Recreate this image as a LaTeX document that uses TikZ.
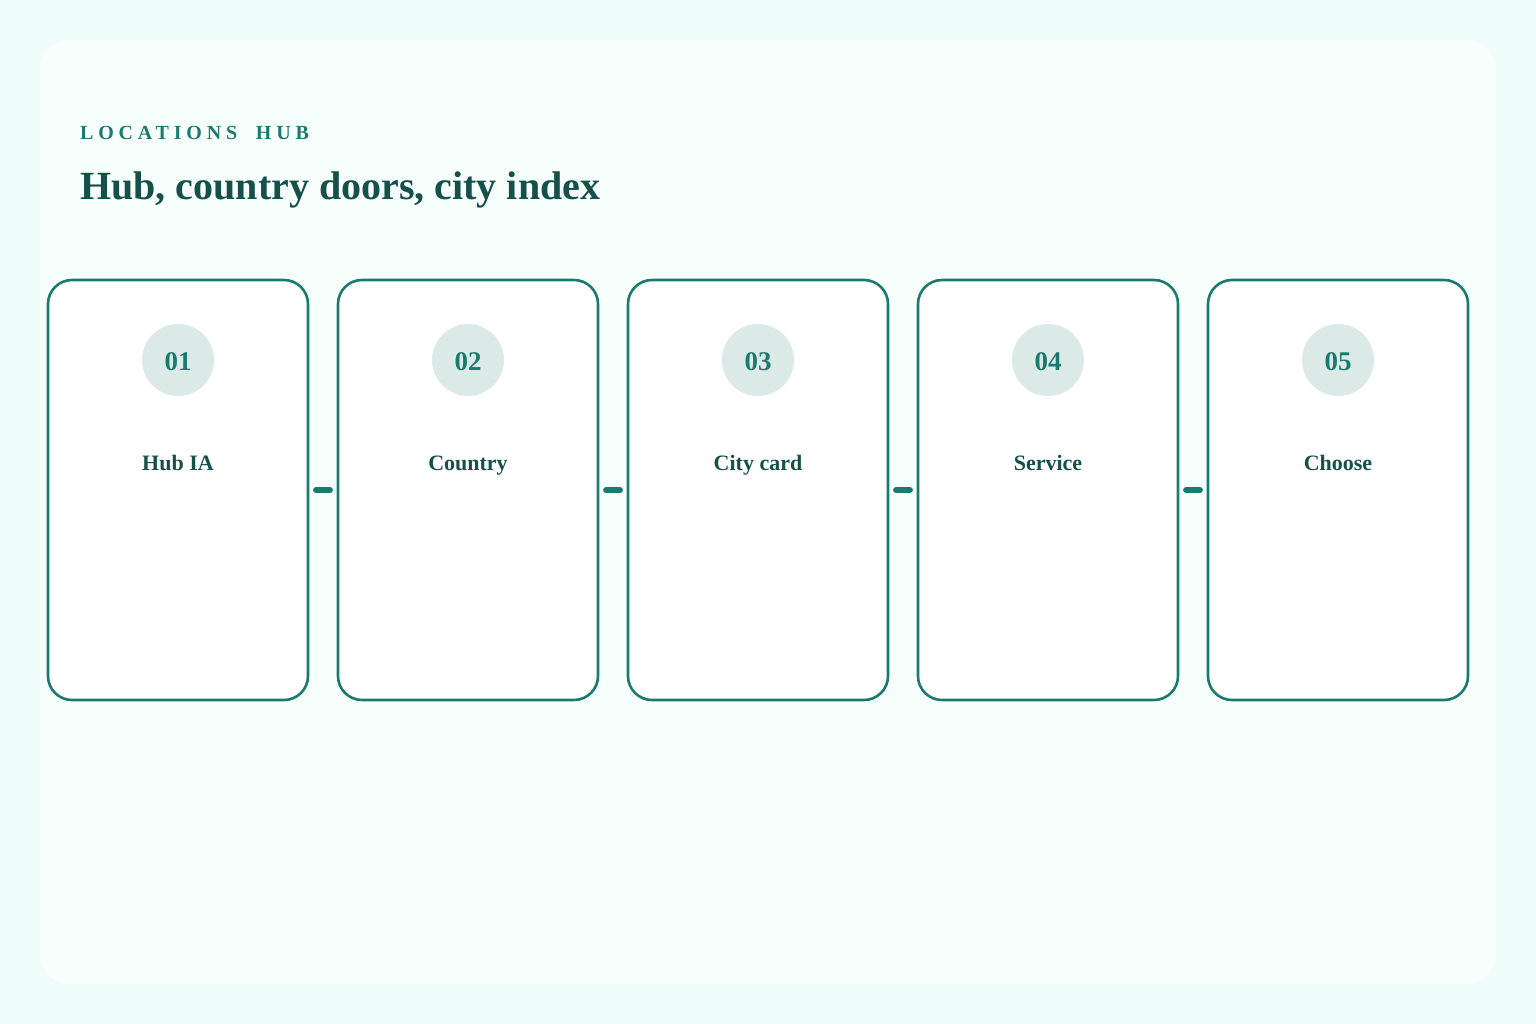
\documentclass[tikz,border=0pt]{standalone}
\usepackage{fontspec}
\setmainfont{Liberation Serif}
\newfontfamily\kickerfont[LetterSpace=24]{Liberation Serif}
\definecolor{bgout}{HTML}{EEFDF9}
\definecolor{bgpanel}{HTML}{F6FFFC}
\definecolor{teal}{HTML}{1B7A70}
\definecolor{deep}{HTML}{17504B}
\definecolor{disc}{HTML}{DCEAE7}
\tikzset{
  card/.style={draw=teal, line width=2.6pt, fill=white, rounded corners=24pt,
    minimum width=260pt, minimum height=420pt, inner sep=0pt},
  badge/.style={circle, fill=disc, minimum size=72pt, inner sep=0pt},
  badgetext/.style={anchor=base, inner sep=0pt, text=teal,
    font=\bfseries\fontsize{27}{27}\selectfont},
  cardlabel/.style={anchor=base, inner sep=0pt, text=deep,
    font=\bfseries\fontsize{22}{22}\selectfont},
  link/.style={draw=teal, line width=6.5pt, line cap=round, shorten <=7pt, shorten >=7pt},
}
\begin{document}
\begin{tikzpicture}[x=1pt,y=-1pt]
  \begin{scope}

    \def\W{1536};   % picture width
    \def\H{1024};   % picture height
    \def\cy{490};   % card centre row
    \def\ny{360};   % badge row
    \def\by{370};   % badge text baseline
    \def\ly{470};   % label baseline

    \useasboundingbox[fill=bgout] (0,0) rectangle (\W,\H);
    \fill[bgpanel, rounded corners=30pt] (40,40) rectangle (1496,984);

    \node[anchor=base west, inner sep=0pt, text=teal,
      font=\bfseries\fontsize{20}{20}\selectfont\kickerfont]
      (kicker) at (80,140) {LOCATIONS\hspace{0.45em} HUB};
    \node[anchor=base west, inner sep=0pt, text=deep,
      font=\bfseries\fontsize{40}{40}\selectfont]
      (title) at (80,200) {Hub, country doors, city index};

    \node[card] (c1) at (178,\cy)  {};
    \node[card] (c2) at (468,\cy)  {};
    \node[card] (c3) at (758,\cy)  {};
    \node[card] (c4) at (1048,\cy) {};
    \node[card] (c5) at (1338,\cy) {};

    \node[badge] (n1) at (178,\ny)  {};
    \node[badge] (n2) at (468,\ny)  {};
    \node[badge] (n3) at (758,\ny)  {};
    \node[badge] (n4) at (1048,\ny) {};
    \node[badge] (n5) at (1338,\ny) {};

    \node[badgetext] (t1) at (178,\by)  {01};
    \node[badgetext] (t2) at (468,\by)  {02};
    \node[badgetext] (t3) at (758,\by)  {03};
    \node[badgetext] (t4) at (1048,\by) {04};
    \node[badgetext] (t5) at (1338,\by) {05};

    \node[cardlabel] (l1) at (178,\ly)  {Hub IA};
    \node[cardlabel] (l2) at (468,\ly)  {Country};
    \node[cardlabel] (l3) at (758,\ly)  {City card};
    \node[cardlabel] (l4) at (1048,\ly) {Service};
    \node[cardlabel] (l5) at (1338,\ly) {Choose};

    \draw[link] (c1.east) -- (c2.west);
    \draw[link] (c2.east) -- (c3.west);
    \draw[link] (c3.east) -- (c4.west);
    \draw[link] (c4.east) -- (c5.west);

  \end{scope}
\end{tikzpicture}
\end{document}
